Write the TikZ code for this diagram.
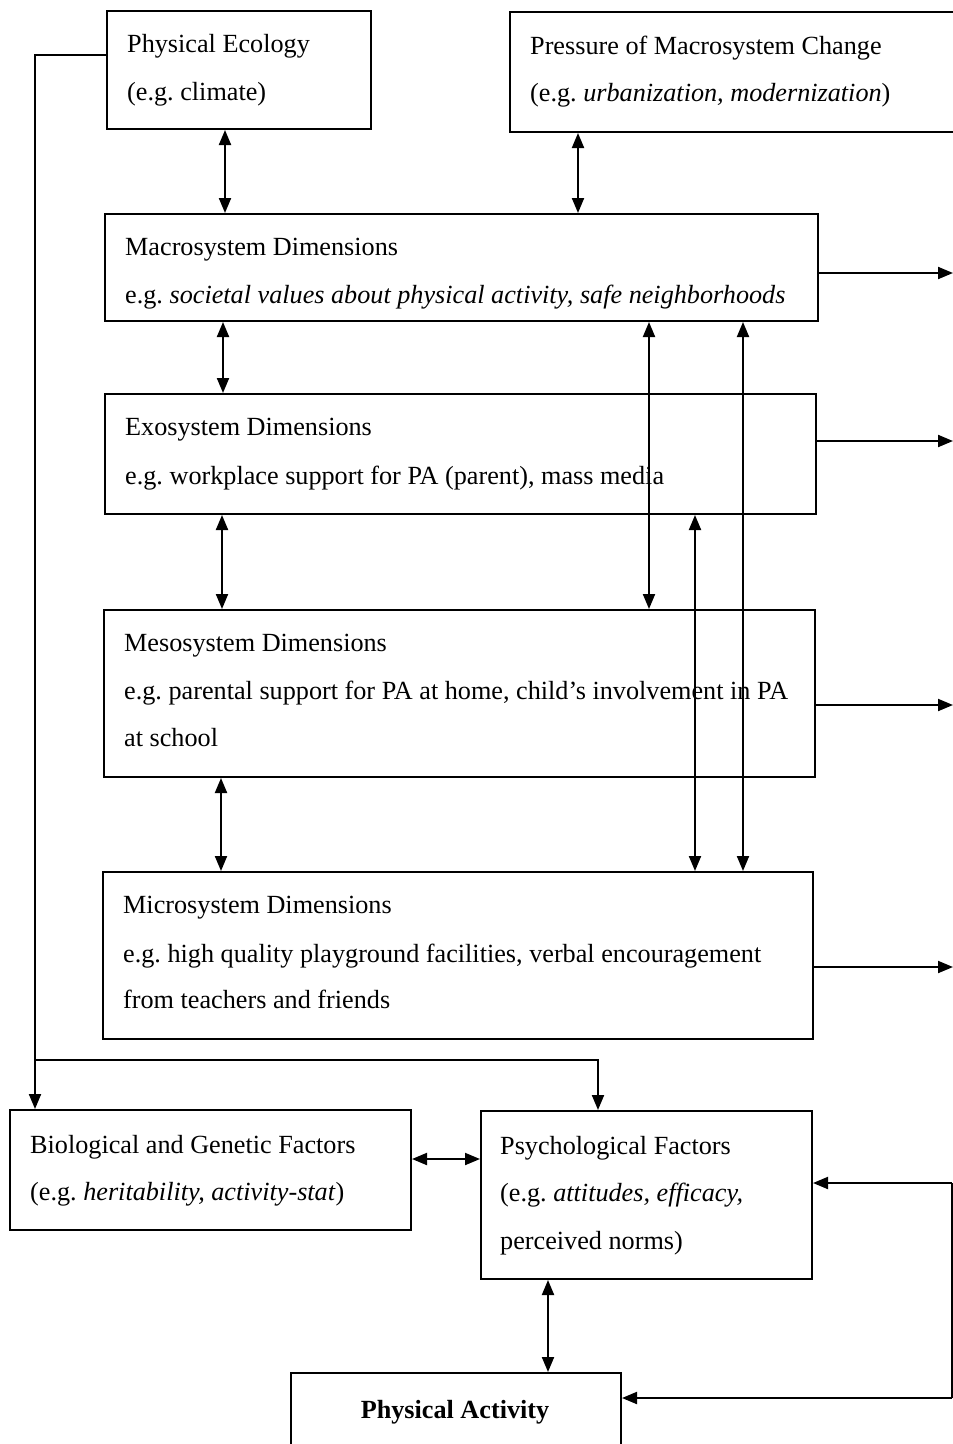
\documentclass[tikz,border=0pt]{standalone}
\usepackage{fontspec}
\setmainfont{Liberation Serif}
\frenchspacing
\usetikzlibrary{arrows.meta}
\begin{document}
\begin{tikzpicture}[x=1pt,y=-1pt,
  box/.style={draw, line width=2pt, rectangle, inner sep=0pt, anchor=north west},
  txt/.style={anchor=base west, inner sep=0pt, font=\fontsize{26.2}{32}\selectfont},
  link/.style={line width=2pt, {Triangle[length=15pt,width=12pt]}-{Triangle[length=15pt,width=12pt]}},
  into/.style={line width=2pt, -{Triangle[length=15pt,width=12pt]}},
  plain/.style={line width=2pt}]
\useasboundingbox (0,0) rectangle (953,1444);

% boxes
\node[box, minimum width=264pt, minimum height=118pt] (eco) at (106,10) {};
\node[box, minimum width=460pt, minimum height=120pt] (press) at (509,11) {};
\node[box, minimum width=713pt, minimum height=107pt] (macro) at (104,213) {};
\node[box, minimum width=711pt, minimum height=120pt] (exo) at (104,393) {};
\node[box, minimum width=711pt, minimum height=167pt] (meso) at (103,609) {};
\node[box, minimum width=710pt, minimum height=167pt] (micro) at (102,871) {};
\node[box, minimum width=401pt, minimum height=120pt] (bio) at (9,1109) {};
\node[box, minimum width=331pt, minimum height=168pt] (psych) at (480,1110) {};
\node[box, minimum width=330pt, minimum height=90pt] (pa) at (290,1372) {};

% texts
\node[txt] (t1) at (127,52) {Physical Ecology};
\node[txt] (t2) at (127,100) {(e.g. climate)};
\node[txt] (t3) at (530,54) {Pressure of Macrosystem Change};
\node[txt] (t4) at (530,101) {(e.g. \textit{urbanization, modernization})};
\node[txt] (t5) at (125,255) {Macrosystem Dimensions};
\node[txt] (t6) at (125,303) {e.g. \textit{societal values about physical activity, safe neighborhoods}};
\node[txt] (t7) at (125,435) {Exosystem Dimensions};
\node[txt] (t8) at (125,484) {e.g. workplace support for PA (parent), mass media};
\node[txt] (t9) at (124,651) {Mesosystem Dimensions};
\node[txt] (t10) at (124,699) {e.g. parental support for PA at home, child's involvement in PA};
\node[txt] (t11) at (124,746) {at school};
\node[txt] (t12) at (123,913) {Microsystem Dimensions};
\node[txt] (t13) at (123,962) {e.g. high quality playground facilities, verbal encouragement};
\node[txt] (t14) at (123,1008) {from teachers and friends};
\node[txt] (t15) at (30,1153) {Biological and Genetic Factors};
\node[txt] (t16) at (30,1200) {(e.g. \textit{heritability, activity-stat})};
\node[txt] (t17) at (500,1154) {Psychological Factors};
\node[txt] (t18) at (500,1201) {(e.g. \textit{attitudes, efficacy,}};
\node[txt] (t19) at (500,1249) {perceived norms)};
\node[txt, anchor=base, font=\fontsize{26.2}{32}\selectfont\bfseries] (t20) at (455,1418) {Physical Activity};

% two-way links between the system levels
\draw[link] (eco.south -| 225,0) -- (macro.north -| 225,0);
\draw[link] (press.south -| 578,0) -- (macro.north -| 578,0);
\draw[link] (macro.south -| 223,0) -- (exo.north -| 223,0);
\draw[link] (exo.south -| 222,0) -- (meso.north -| 222,0);
\draw[link] (meso.south -| 221,0) -- (micro.north -| 221,0);
\draw[link] (macro.south -| 649,0) -- (meso.north -| 649,0);
\draw[link] (macro.south -| 743,0) -- (micro.north -| 743,0);
\draw[link] (exo.south -| 695,0) -- (micro.north -| 695,0);

% outputs to the right
\coordinate (r1) at (953,273);
\coordinate (r2) at (953,441);
\coordinate (r3) at (953,705);
\coordinate (r4) at (953,967);
\draw[into] (macro.east |- r1) -- (r1);
\draw[into] (exo.east |- r2) -- (r2);
\draw[into] (meso.east |- r3) -- (r3);
\draw[into] (micro.east |- r4) -- (r4);

% feedback along the right edge
\coordinate (e1) at (952,1183);
\coordinate (e2) at (952,1398);
\draw[plain] (e1) -- (e2);
\draw[into] (e1) -- (psych.east |- e1);
\draw[into] (e2) -- (pa.east |- e2);

% physical ecology feeding the individual factors
\coordinate (l1) at (35,55);
\coordinate (l2) at (35,1060);
\coordinate (l3) at (598,1060);
\draw[plain] (eco.west |- l1) -- (l1) -- (l2);
\draw[into] (l2) -- (bio.north -| l2);
\draw[into] (l2) -- (l3) -- (psych.north -| l3);

% individual factors
\draw[link] (bio.east |- 0,1159) -- (psych.west |- 0,1159);
\draw[link] (psych.south -| 548,0) -- (pa.north -| 548,0);
\end{tikzpicture}
\end{document}
